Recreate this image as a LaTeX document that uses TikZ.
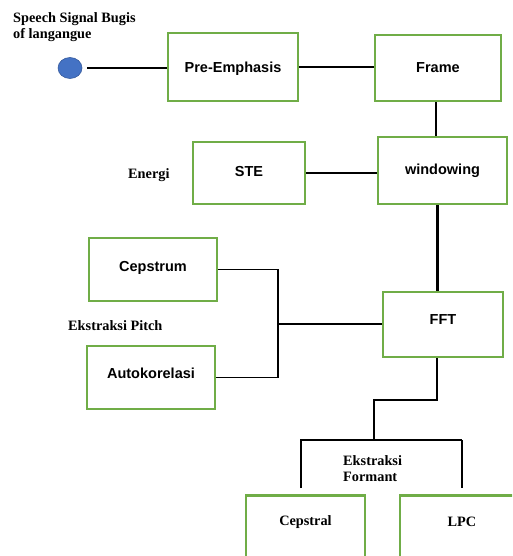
\documentclass[tikz,border=0pt]{standalone}
\usepackage{fontspec}
\usetikzlibrary{shapes.geometric}
\setmainfont{Liberation Serif}
\setsansfont{Liberation Sans}
\definecolor{boxgreen}{HTML}{70AD47}
\definecolor{dotblue}{HTML}{4472C4}
\begin{document}
\begin{tikzpicture}[x=1pt,y=-1pt,
  box/.style={draw=boxgreen,line width=2.6pt,fill=white,inner sep=0pt,
    font=\sffamily\bfseries\fontsize{14.5}{17}\selectfont},
  serif/.style={font=\rmfamily\bfseries\fontsize{14.3}{16.5}\selectfont,inner sep=0pt},
  conn/.style={line width=1.6pt,black},
  thick conn/.style={line width=2.6pt,black}]
\useasboundingbox (0,0) rectangle (512,556);
\clip (0,0) rectangle (512,556);
% nodes
\node[serif,anchor=north west,align=left] (title) at (13,12) {Speech Signal Bugis\\of langangue};
\node[draw=dotblue!80!black,fill=dotblue,ellipse,minimum width=24pt,minimum height=21pt,inner sep=0pt,line width=0.6pt] (circ) at (70,68) {};
\node[box,minimum width=130pt,minimum height=68pt,text depth=0pt] (pre) at (233,67) {Pre-Emphasis};
\node[box,minimum width=126pt,minimum height=66pt] (frame) at (438,68) {Frame};
\node[box,minimum width=129pt,minimum height=67pt] (win) at (442.5,170.5) {windowing};
\node[box,minimum width=112pt,minimum height=62pt,text depth=3pt] (ste) at (249,173) {STE};
\node[serif,anchor=west] (energi) at (128,175) {Energi};
\node[box,minimum width=120pt,minimum height=65pt,text depth=10pt] (fft) at (443,324.5) {FFT};
\node[box,minimum width=128pt,minimum height=63pt,text depth=7pt] (cep) at (153,269.5) {Cepstrum};
\node[box,minimum width=128pt,minimum height=63pt,text depth=8pt] (auto) at (151,377.5) {Autokorelasi};
\node[serif,anchor=west] (pitch) at (68,326) {Ekstraksi Pitch};
\node[serif,anchor=north west,align=left] (formant) at (343,455) {Ekstraksi\\Formant};
\node[box,minimum width=119pt,minimum height=100pt,anchor=north] (cepstral) at (305.5,494) {};
\node[serif] (cepstralt) at (305.5,522) {Cepstral};
\node[box,minimum width=130pt,minimum height=100pt,anchor=north] (lpc) at (465,494) {};
\node[serif] (lpct) at (462,522) {LPC};
% coordinates
\coordinate (pj) at (278,324);
\coordinate (fa) at (374,400);
\coordinate (fb) at (374,440);
\coordinate (fl) at (301,488);
\coordinate (fr) at (462,488);
% connectors
\draw[conn] ([xshift=5pt]circ.east) -- (pre.west |- circ.east);
\draw[conn] (pre.east) -- (frame.west |- pre.east);
\draw[conn] ([xshift=-2pt]frame.south) -- ([xshift=-2pt]frame.south |- win.north);
\draw[conn] (ste.east) -- (win.west |- ste.east);
\draw[thick conn] ([xshift=-5pt]win.south) -- ([xshift=-5pt]win.south |- fft.north);
\draw[conn] (cep.east) -| (pj |- auto.east) -- (auto.east);
\draw[thick conn] (pj |- cep.east) -- (pj |- auto.east);
\draw[conn] (pj) -- (fft.west |- pj);
\draw[conn] ([xshift=-6pt]fft.south) |- (fa) -- (fb);
\draw[conn] (fl) -- (fl |- fb) -- (fr |- fb);
\draw[thick conn] (fr |- fb) -- (fr);
\end{tikzpicture}
\end{document}
